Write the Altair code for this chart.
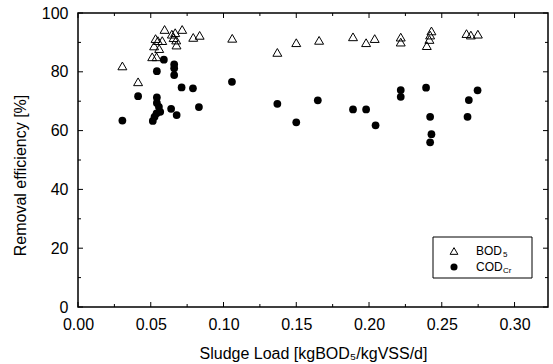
import altair as alt
import pandas as pd

# ---- data ----
bod_x = [0.0305, 0.0413, 0.051, 0.054, 0.0523, 0.0533, 0.0549, 0.0558, 0.0579, 0.0595,
         0.0645, 0.0668, 0.0657, 0.0675, 0.0677, 0.0716, 0.0792, 0.0836, 0.106, 0.137,
         0.150, 0.1657, 0.189, 0.198, 0.2039, 0.2218, 0.2218, 0.2429, 0.242, 0.2415,
         0.2397, 0.267, 0.270, 0.2748]
bod_y = [82.0, 76.6, 85.1, 85.1, 88.8, 91.3, 90.6, 87.9, 90.6, 94.4,
         92.8, 93.3, 91.6, 90.8, 89.1, 94.4, 91.7, 92.4, 91.4, 86.6,
         89.9, 90.7, 91.9, 89.9, 91.3, 91.8, 90.1, 93.9, 92.5, 91.0,
         88.9, 93.0, 92.5, 92.8]

cod_x = [0.0305, 0.0413, 0.0514, 0.0526, 0.054, 0.0565, 0.0556, 0.0542, 0.0542, 0.0542,
         0.059, 0.064, 0.0678, 0.0661, 0.0661, 0.0661, 0.0712, 0.079, 0.0831, 0.1058,
         0.137, 0.150, 0.1648, 0.189, 0.198, 0.2045, 0.2218, 0.2218, 0.2392, 0.242,
         0.2429, 0.242, 0.2677, 0.2686, 0.2746]
cod_y = [63.4, 71.7, 63.3, 64.7, 65.9, 66.4, 68.1, 69.4, 71.3, 80.2,
         84.1, 67.4, 65.3, 82.5, 81.2, 78.9, 74.7, 74.4, 68.0, 76.6,
         69.1, 62.8, 70.3, 67.2, 67.2, 61.8, 73.8, 71.5, 74.6, 64.7,
         58.8, 56.0, 64.7, 70.4, 73.7]

x_major = [0.0, 0.05, 0.10, 0.15, 0.20, 0.25, 0.30]
x_minor = [0.025, 0.075, 0.125, 0.175, 0.225, 0.275]
y_major = [0, 20, 40, 60, 80, 100]
y_minor = [10, 30, 50, 70, 90]

legend_main = ["BOD", "COD"]
legend_sub = ["5", "Cr"]

x_title = "Sludge Load [kgBOD\u2085/kgVSS/d]"
y_title = "Removal efficiency [%]"

W, H = 470, 294
FONT = "Liberation Sans"
XD = [0, 0.323]
YD = [0, 100]

xs = alt.Scale(domain=XD, nice=False, zero=False)
ys = alt.Scale(domain=YD, nice=False)

bod = pd.DataFrame({"x": bod_x, "y": bod_y})
cod = pd.DataFrame({"x": cod_x, "y": cod_y})

x_axis = alt.Axis(values=x_major, format=".2f", ticks=False, tickSize=0, domain=False, grid=False,
                  labelFlush=False, labelOverlap=False,
                  labelFont=FONT, labelFontSize=16, labelColor="black", labelPadding=9,
                  title=x_title, titleFont=FONT, titleFontSize=16, titleFontWeight="normal",
                  titleColor="black", titleY=46, titleBaseline="middle")
y_axis = alt.Axis(values=y_major, ticks=False, tickSize=0, domain=False, grid=False,
                  labelFlush=False, labelOverlap=False,
                  labelFont=FONT, labelFontSize=16, labelColor="black", labelPadding=10,
                  title=y_title, titleFont=FONT, titleFontSize=16, titleFontWeight="normal",
                  titleColor="black", titleX=-58, titleY=162, titleBaseline="middle",
                  titleAlign="center", titleAngle=270)

tri = alt.Chart(bod).mark_point(shape="triangle-up", size=80, filled=False,
                                color="black", strokeWidth=1, opacity=1).encode(
    x=alt.X("x:Q", scale=xs, axis=x_axis),
    y=alt.Y("y:Q", scale=ys, axis=y_axis),
)
dots = alt.Chart(cod).mark_circle(size=60, color="black", opacity=1).encode(
    x=alt.X("x:Q", scale=xs, axis=x_axis),
    y=alt.Y("y:Q", scale=ys, axis=y_axis),
)

def xticks(vals, length):
    df = pd.DataFrame({"x": vals})
    bottom = alt.Chart(df).mark_rule(color="black", strokeWidth=1).encode(
        x=alt.X("x:Q", scale=xs, axis=x_axis), y=alt.value(H), y2=alt.value(H - length))
    top = alt.Chart(df).mark_rule(color="black", strokeWidth=1).encode(
        x=alt.X("x:Q", scale=xs, axis=x_axis), y=alt.value(0), y2=alt.value(length))
    return [bottom, top]

def yticks(vals, length):
    df = pd.DataFrame({"y": vals})
    left = alt.Chart(df).mark_rule(color="black", strokeWidth=1).encode(
        y=alt.Y("y:Q", scale=ys, axis=y_axis), x=alt.value(0), x2=alt.value(length))
    right = alt.Chart(df).mark_rule(color="black", strokeWidth=1).encode(
        y=alt.Y("y:Q", scale=ys, axis=y_axis), x=alt.value(W), x2=alt.value(W - length))
    return [left, right]

one = pd.DataFrame({"a": [0]})
leg_box = alt.Chart(one).mark_rect(fill="white", stroke="black", strokeWidth=1).encode(
    x=alt.value(355), x2=alt.value(454), y=alt.value(224), y2=alt.value(265))
leg_tri = alt.Chart(one).mark_point(shape="triangle-up", size=60, filled=False,
                                    color="black", strokeWidth=1, opacity=1).encode(
    x=alt.value(376), y=alt.value(238))
leg_dot = alt.Chart(one).mark_circle(size=50, color="black", opacity=1).encode(
    x=alt.value(376), y=alt.value(254))
leg_t1 = alt.Chart(one).mark_text(text=legend_main[0], align="left", baseline="middle",
                                  font=FONT, fontSize=12, color="black").encode(
    x=alt.value(398), y=alt.value(238))
leg_s1 = alt.Chart(one).mark_text(text=legend_sub[0], align="left", baseline="middle",
                                  font=FONT, fontSize=8, color="black").encode(
    x=alt.value(425), y=alt.value(242))
leg_t2 = alt.Chart(one).mark_text(text=legend_main[1], align="left", baseline="middle",
                                  font=FONT, fontSize=12, color="black").encode(
    x=alt.value(398), y=alt.value(254))
leg_s2 = alt.Chart(one).mark_text(text=legend_sub[1], align="left", baseline="middle",
                                  font=FONT, fontSize=8, color="black").encode(
    x=alt.value(425), y=alt.value(258))

layers = [tri, dots] + xticks(x_major, 5) + xticks(x_minor, 3) + yticks(y_major, 5) + \
         yticks(y_minor, 3) + [leg_box, leg_tri, leg_dot, leg_t1, leg_s1, leg_t2, leg_s2]

chart = alt.layer(*layers).properties(
    width=W, height=H,
    autosize=alt.AutoSizeParams(type="none"),
    padding={"left": 78, "top": 13, "right": 5, "bottom": 57},
    background="white",
).configure_view(stroke="black", strokeWidth=1.5)

chart.save("out.html", embed_options={"renderer": "svg", "actions": False})
